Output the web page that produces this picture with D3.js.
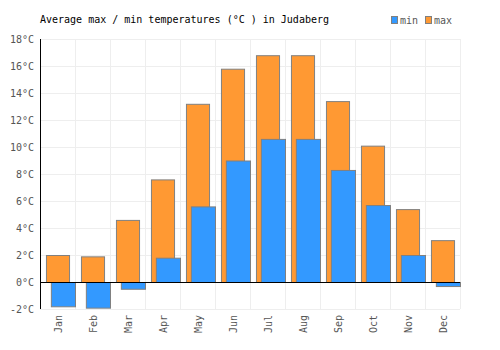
<!DOCTYPE html>
<html>
<head>
<meta charset="utf-8">
<script src="https://cdn.jsdelivr.net/npm/d3@7"></script>
<style>
  body { margin: 0; background: #fff; }
  text { font-family: "DejaVu Sans Mono", monospace; }
</style>
</head>
<body>
<div id="chart"></div>
<script>
// Monthly averages
const months = ["Jan", "Feb", "Mar", "Apr", "May", "Jun", "Jul", "Aug", "Sep", "Oct", "Nov", "Dec"];
const maxTemps = [2.0, 1.9, 4.6, 7.6, 13.2, 15.8, 16.8, 16.8, 13.4, 10.1, 5.4, 3.1];
const minTemps = [-1.8, -1.9, -0.5, 1.8, 5.6, 9.0, 10.6, 10.6, 8.3, 5.7, 2.0, -0.3];
const yTicks = [-2, 0, 2, 4, 6, 8, 10, 12, 14, 16, 18];

const W = 500, H = 350;
const margin = { top: 39, right: 40, bottom: 41, left: 40 };
const width = W - margin.left - margin.right,
      height = H - margin.top - margin.bottom;

const svg = d3.select("#chart")
  .append("svg")
  .attr("width", W)
  .attr("height", H);

const g = svg.append("g")
  .attr("transform", `translate(${margin.left},${margin.top})`);

const x = d3.scaleBand().domain(months).range([0, width]).padding(0);
const y = d3.scaleLinear().domain([-2, 18]).range([height, 0]);

// Grid
g.selectAll(".hgrid")
  .data(yTicks)
  .enter().append("line")
  .attr("x1", 0).attr("x2", width)
  .attr("y1", d => y(d) + 0.5).attr("y2", d => y(d) + 0.5)
  .attr("stroke", "#eeeeee");

g.selectAll(".vgrid")
  .data(months)
  .enter().append("line")
  .attr("x1", d => x(d) + x.bandwidth() + 0.5)
  .attr("x2", d => x(d) + x.bandwidth() + 0.5)
  .attr("y1", 0).attr("y2", height)
  .attr("stroke", "#eeeeee");

// Max bars (orange) behind, min bars (blue) in front
const bw = x.bandwidth();
g.selectAll(".max")
  .data(months)
  .enter().append("rect")
  .attr("x", d => x(d) + bw * 0.17 + 0.5)
  .attr("width", bw * 0.66)
  .attr("y", (d, i) => y(Math.max(0, maxTemps[i])) + 0.5)
  .attr("height", (d, i) => Math.abs(y(maxTemps[i]) - y(0)))
  .attr("fill", "#ff9933")
  .attr("stroke", "#808080");

g.selectAll(".min")
  .data(months)
  .enter().append("rect")
  .attr("x", d => x(d) + bw * 0.31 + 0.5)
  .attr("width", bw * 0.69)
  .attr("y", (d, i) => y(Math.max(0, minTemps[i])) + 0.5)
  .attr("height", (d, i) => Math.abs(y(minTemps[i]) - y(0)))
  .attr("fill", "#3399ff")
  .attr("stroke", "#808080");

// Zero line and y axis line
g.append("line")
  .attr("x1", 0).attr("x2", width)
  .attr("y1", y(0) + 0.5).attr("y2", y(0) + 0.5)
  .attr("stroke", "#000");
g.append("line")
  .attr("x1", 0.5).attr("x2", 0.5)
  .attr("y1", 0).attr("y2", height)
  .attr("stroke", "#000");

// Y labels
g.selectAll(".ylab")
  .data(yTicks)
  .enter().append("text")
  .attr("x", -6)
  .attr("y", d => y(d))
  .attr("dy", "0.35em")
  .attr("text-anchor", "end")
  .attr("font-size", 10)
  .attr("fill", "#555")
  .text(d => `${d}°C`);

// X labels rotated
g.selectAll(".xlab")
  .data(months)
  .enter().append("text")
  .attr("transform", d => `translate(${x(d) + bw / 2 + 4},${height + 6}) rotate(-90)`)
  .attr("text-anchor", "end")
  .attr("font-size", 10)
  .attr("fill", "#555")
  .text(d => d);

// Title
svg.append("text")
  .attr("x", 40).attr("y", 23)
  .attr("font-size", 10)
  .attr("fill", "#000")
  .text("Average max / min temperatures (°C ) in Judaberg");

// Legend
const legend = [["min", "#3399ff"], ["max", "#ff9933"]];
const lg = svg.selectAll(".leg")
  .data(legend)
  .enter().append("g")
  .attr("transform", (d, i) => `translate(${391 + i * 34},16)`);
lg.append("rect")
  .attr("x", 0.5).attr("y", 0.5)
  .attr("width", 6).attr("height", 7)
  .attr("fill", d => d[1])
  .attr("stroke", "#808080");
lg.append("text")
  .attr("x", 9).attr("y", 8)
  .attr("font-size", 10)
  .attr("fill", "#555")
  .text(d => d[0]);
</script>
</body>
</html>
